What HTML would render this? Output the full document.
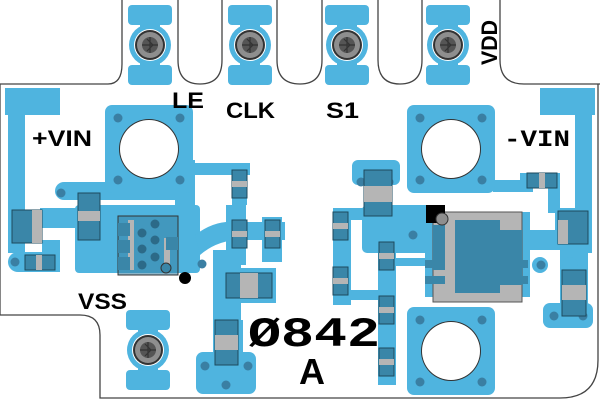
<!DOCTYPE html>
<html><head><meta charset="utf-8"><style>
html,body{margin:0;padding:0;background:#fff;}
svg{display:block;}
text{font-family:"Liberation Sans",sans-serif;font-weight:bold;fill:#000;}
.m{font-family:"Liberation Mono",monospace;}
</style></head><body>
<svg width="600" height="400" viewBox="0 0 600 400" xmlns="http://www.w3.org/2000/svg">
<defs>
<g id="conn">
  <rect x="-22" y="-40" width="44" height="20" rx="4" fill="#4fb4df"/>
  <rect x="-22" y="20" width="44" height="20" rx="4" fill="#4fb4df"/>
  <rect x="-10" y="-25" width="20" height="50" fill="#4fb4df"/>
  <circle r="21" fill="#4fb4df"/>
  <circle r="16" fill="#fff"/>
  <circle r="15" fill="#333"/>
  <circle r="13" fill="#8e8e8e"/>
  <circle r="8" fill="#555"/>
  <path d="M-8 0H8M0-8V8M-3 -6L3 0L-3 6" stroke="#333" stroke-width="1.2" fill="none"/>
</g>
<g id="sq">
  <rect x="0" y="0" width="88" height="88" rx="7" fill="#4fb4df"/>
  <circle cx="44" cy="44" r="30" fill="#333"/>
  <circle cx="44" cy="44" r="29" fill="#fff"/>
  <circle cx="13" cy="13" r="4.5" fill="#3a7fa3"/>
  <circle cx="75" cy="13" r="4.5" fill="#3a7fa3"/>
  <circle cx="13" cy="75" r="4.5" fill="#3a7fa3"/>
  <circle cx="75" cy="75" r="4.5" fill="#3a7fa3"/>
</g>
</defs>

<!-- board outline -->
<path d="M0 84 H108 Q122 84 122 64 V0 M178 0 V60 Q178 84 200 84 Q222 84 222 60 V0 M277 0 V60 Q277 84 300 84 Q322 84 322 60 V0 M378 0 V60 Q378 84 400 84 Q422 84 422 60 V0 M500 0 V60 Q500 84 524 84 H600 M0 84 V315 H80 Q100 315 100 335 V398 H560 Q598 398 598 360 V84" fill="none" stroke="#444" stroke-width="1.3"/>

<!-- top connectors -->
<use href="#conn" x="150" y="45"/>
<use href="#conn" x="250" y="45"/>
<use href="#conn" x="347" y="45"/>
<use href="#conn" x="448" y="45"/>
<use href="#conn" x="148" y="350"/>

<!-- left traces -->
<g fill="#4fb4df">
<rect x="5" y="88" width="55" height="27"/>
<rect x="8" y="88" width="17" height="165"/>
<rect x="55" y="182" width="140" height="18" rx="9"/>
<rect x="175" y="160" width="20" height="60"/>
<rect x="190" y="163" width="60" height="12"/>
<rect x="232" y="165" width="15" height="40"/>
<rect x="75" y="205" width="125" height="68" rx="4"/>
<rect x="40" y="208" width="40" height="20"/>
<rect x="8" y="252" width="52" height="20" rx="10"/>
<rect x="42" y="240" width="18" height="32"/>
<path d="M195 235 Q215 220 235 222 H285 V240 H235 Q215 242 200 255Z"/>
<rect x="226" y="205" width="20" height="60"/>
<rect x="262" y="217" width="20" height="45"/>
<rect x="213" y="250" width="28" height="80"/>
<rect x="224" y="268" width="52" height="35"/>
<rect x="196" y="352" width="60" height="42" rx="7"/>
<rect x="213" y="320" width="30" height="40"/>
<!-- right traces -->
<rect x="540" y="88" width="55" height="27"/>
<rect x="575" y="88" width="17" height="165"/>
<rect x="352" y="160" width="48" height="25" rx="6"/>
<rect x="362" y="205" width="78" height="48" rx="5"/>
<rect x="333" y="208" width="30" height="12"/>
<rect x="333" y="210" width="18" height="95"/>
<rect x="378" y="240" width="18" height="145"/>
<rect x="340" y="290" width="45" height="10"/>
<rect x="395" y="258" width="40" height="8"/>
<rect x="425" y="212" width="105" height="85"/>
<rect x="493" y="180" width="40" height="12"/>
<rect x="520" y="173" width="40" height="15"/>
<rect x="548" y="173" width="12" height="40"/>
<rect x="520" y="230" width="65" height="20"/>
<rect x="555" y="208" width="35" height="40"/>
<rect x="560" y="248" width="28" height="70"/>
<rect x="543" y="303" width="50" height="25" rx="7"/>
<circle cx="570" cy="265" r="8"/>
<circle cx="540" cy="265" r="8"/>
</g>

<use href="#sq" x="105" y="105"/>
<use href="#sq" x="407" y="105"/>
<use href="#sq" x="407" y="307"/>

<!-- vias -->
<g fill="#3a7fa3">
<circle cx="15" cy="262" r="4.5"/>
<circle cx="61" cy="193" r="4.5"/>
<circle cx="202" cy="264" r="4.5"/>
<circle cx="361" cy="182" r="4.5"/>
<circle cx="389" cy="182" r="4.5"/>
<circle cx="413" cy="235" r="4.5"/>
<circle cx="541" cy="265" r="4.5"/>
<circle cx="554" cy="316" r="4.5"/>
<circle cx="583" cy="316" r="4.5"/>
<circle cx="205" cy="366" r="4.5"/>
<circle cx="248" cy="366" r="4.5"/>
<circle cx="226" cy="385" r="4.5"/>
</g>

<!-- components -->
<g stroke="#1d4a5e" stroke-width="1">
<g id="cv"><rect x="232" y="170" width="15" height="28" fill="#3a86a8"/><rect x="232" y="181" width="15" height="6" fill="#b5b5b5" stroke="none"/></g>
<use href="#cv" x="0" y="50"/>
<use href="#cv" x="33" y="50"/>
<use href="#cv" x="101" y="42"/>
<use href="#cv" x="101" y="97"/>
<use href="#cv" x="147" y="72"/>
<use href="#cv" x="147" y="126"/>
<use href="#cv" x="147" y="178"/>
<rect x="78" y="193" width="22" height="47" fill="#3a86a8"/><rect x="78" y="211" width="22" height="10" fill="#b5b5b5" stroke="none"/>
<rect x="12" y="210" width="30" height="33" fill="#3a86a8"/><rect x="32" y="210" width="10" height="33" fill="#b5b5b5" stroke="none"/>
<rect x="25" y="255" width="30" height="15" fill="#3a86a8"/><rect x="36" y="255" width="6" height="15" fill="#b5b5b5" stroke="none"/>
<rect x="226" y="273" width="46" height="25" fill="#3a86a8"/><rect x="240" y="273" width="18" height="25" fill="#b5b5b5" stroke="none"/>
<rect x="215" y="320" width="23" height="45" fill="#3a86a8"/><rect x="215" y="335" width="23" height="15" fill="#b5b5b5" stroke="none"/>
<rect x="364" y="170" width="28" height="46" fill="#3a86a8"/><rect x="364" y="186" width="28" height="16" fill="#b5b5b5" stroke="none"/>
<rect x="527" y="173" width="30" height="15" fill="#3a86a8"/><rect x="539" y="173" width="6" height="15" fill="#b5b5b5" stroke="none"/>
<rect x="558" y="211" width="30" height="33" fill="#3a86a8"/><rect x="558" y="220" width="10" height="24" fill="#b5b5b5" stroke="none"/>
<rect x="562" y="270" width="24" height="46" fill="#3a86a8"/><rect x="562" y="285" width="24" height="15" fill="#b5b5b5" stroke="none"/>
</g>

<!-- left chip -->
<rect x="118" y="216" width="60" height="59" fill="#3a86a8" fill-opacity="0.6" stroke="#333"/>
<g fill="#b5b5b5"><rect x="128" y="220" width="6" height="50"/><rect x="164" y="238" width="6" height="30"/></g>
<g fill="#3a86a8"><rect x="118" y="223" width="12" height="13"/><rect x="118" y="240" width="12" height="13"/><rect x="118" y="257" width="12" height="13"/><rect x="166" y="237" width="12" height="13"/></g>
<g fill="#2c6a88"><circle cx="155" cy="224" r="4.5"/><circle cx="142" cy="233" r="4.5"/><circle cx="155" cy="240" r="4.5"/><circle cx="142" cy="249" r="4.5"/><circle cx="155" cy="257" r="4.5"/><circle cx="142" cy="265" r="4.5"/></g>
<circle cx="166" cy="268" r="5" fill="#3a86a8" stroke="#333"/>
<circle cx="185" cy="278" r="6" fill="#000"/>

<!-- right chip -->
<rect x="433" y="212" width="89" height="90" fill="#b5b5b5" stroke="#555"/>
<path d="M455 220 H500 V230 H522 V285 H500 V293 H455Z" fill="#3a86a8"/>
<g fill="#3a86a8"><rect x="433" y="225" width="12" height="45"/><rect x="425" y="260" width="20" height="8"/><rect x="425" y="276" width="20" height="8"/><rect x="510" y="260" width="18" height="8"/><rect x="510" y="276" width="18" height="8"/></g>
<rect x="426" y="205" width="19" height="18" fill="#000"/>
<circle cx="442" cy="219" r="6" fill="#8e8e8e" stroke="#333"/>

<!-- labels -->
<text x="172" y="108" font-size="22" textLength="32" lengthAdjust="spacingAndGlyphs">LE</text>
<text x="226" y="118" font-size="22" textLength="49" lengthAdjust="spacingAndGlyphs">CLK</text>
<text x="326" y="118" font-size="22" textLength="33" lengthAdjust="spacingAndGlyphs">S1</text>
<text x="32" y="146" font-size="22" textLength="60" lengthAdjust="spacingAndGlyphs">+VIN</text>
<text class="m" x="504" y="146" font-size="23" textLength="66" lengthAdjust="spacingAndGlyphs">-VIN</text>
<text x="78" y="309" font-size="22" textLength="49" lengthAdjust="spacingAndGlyphs">VSS</text>
<text x="497" y="65" font-size="22" textLength="45" lengthAdjust="spacingAndGlyphs" transform="rotate(-90 497 65)">VDD</text>
<text class="m" x="248" y="346" font-size="42" textLength="132" lengthAdjust="spacingAndGlyphs">Ø842</text>
<text x="299" y="384" font-size="36" textLength="26" lengthAdjust="spacingAndGlyphs">A</text>
</svg>
</body></html>
